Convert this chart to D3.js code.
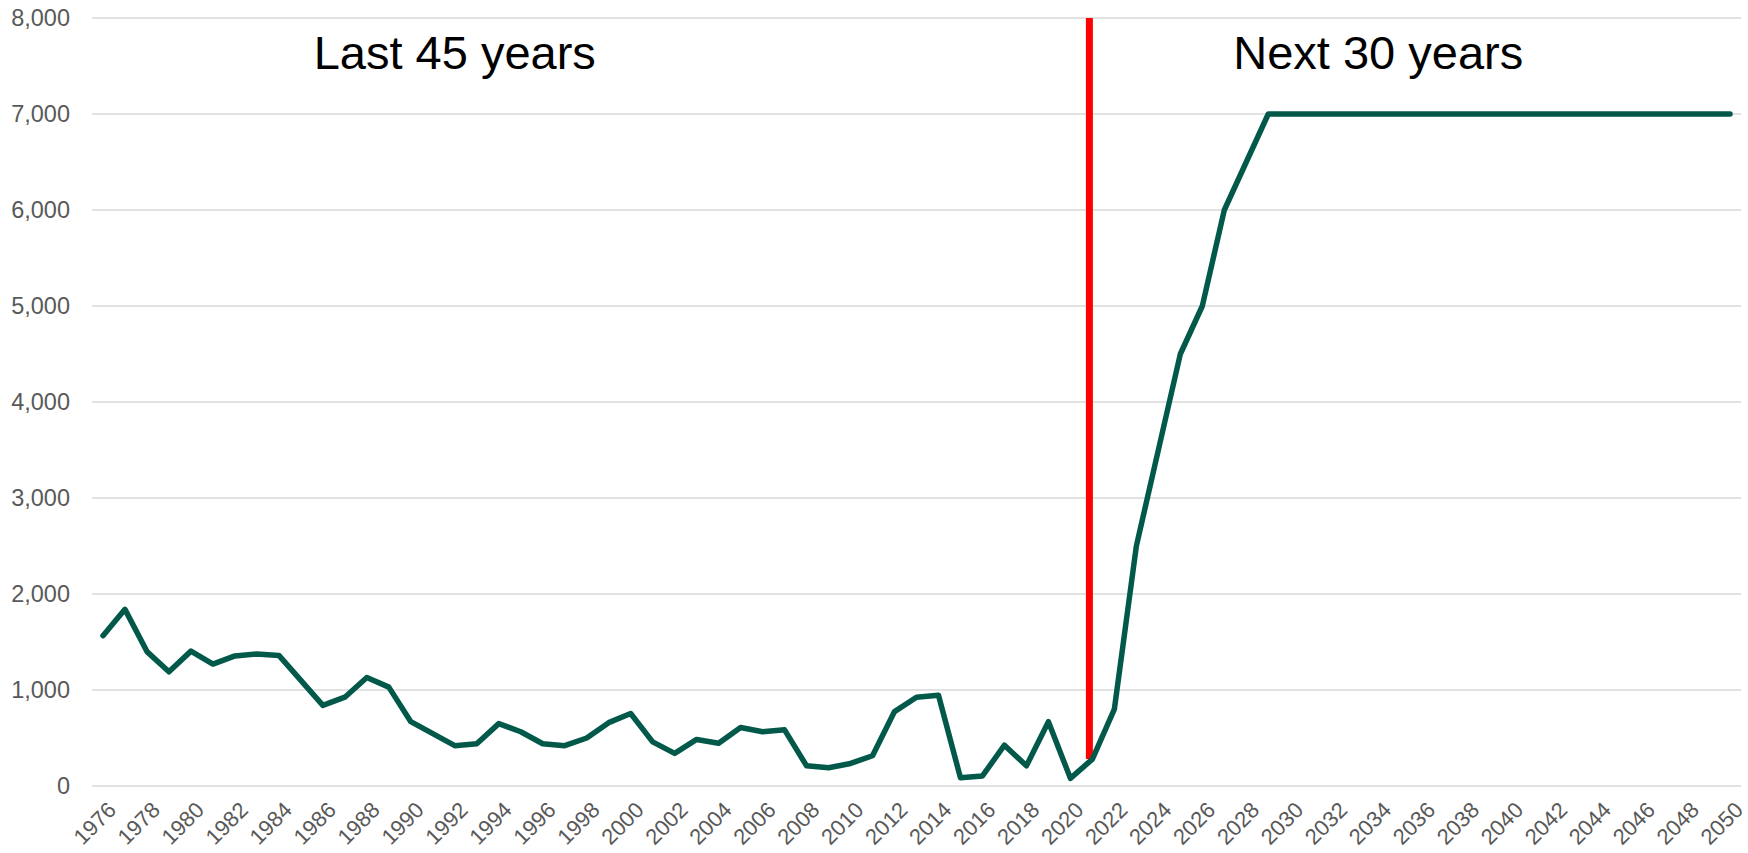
<!DOCTYPE html>
<html lang="en">
<head>
  <meta charset="UTF-8" />
  <title>Last 45 years / Next 30 years</title>
  <style>
    body {
      margin: 0;
      background: #fff;
      overflow: hidden;
    }
    svg {
      display: block;
      font-family: "Liberation Sans", Arial, sans-serif;
    }
    .grid line {
      stroke: #d9d9d9;
      stroke-width: 1.5;
    }
    .tick-label {
      fill: #595959;
      font-size: 23.5px;
    }
    .x-label {
      font-size: 22px;
    }
  </style>
  <script src="https://cdn.jsdelivr.net/npm/d3@7"></script>
</head>
<body>
  <svg id="chart" width="1748" height="853"></svg>

  <script>
    // years on the category axis
    const years = d3.range(1976, 2051);

    // history 1976-2021
    const pastValues = [
      1565, 1840, 1400, 1190, 1405, 1270, 1355, 1375, 1360, 1100,
      840, 925, 1130, 1030, 670, 545, 420, 440, 650, 565,
      440, 420, 500, 660, 755, 460, 340, 485, 445, 610,
      565, 585, 210, 190, 235, 315, 775, 925, 945, 85,
      105, 425, 210, 670, 80, 280
    ];

    // outlook 2022-2050
    const futureValues = [
      800, 2500, 3500, 4500, 5000, 6000, 6500, 7000, 7000, 7000,
      7000, 7000, 7000, 7000, 7000, 7000, 7000, 7000, 7000, 7000,
      7000, 7000, 7000, 7000, 7000, 7000, 7000, 7000, 7000
    ];

    const values = pastValues.concat(futureValues);
    const yTicks = [0, 1000, 2000, 3000, 4000, 5000, 6000, 7000, 8000];
    const xTickYears = years.filter(y => (y - 1976) % 2 === 0);
    const splitYear = 2021;
    const annotations = [
      { text: 'Last 45 years', year: 1992 },
      { text: 'Next 30 years', year: 2034 }
    ];

    const data = years.map((yr, i) => ({ year: yr, value: values[i] }));

    const svg = d3.select('#chart');
    const plotLeft = 92, plotRight = 1741, plotTop = 18, plotBottom = 786;

    const x = d3.scalePoint().domain(years).range([plotLeft, plotRight]).padding(0.5);
    const y = d3.scaleLinear().domain([0, 8000]).range([plotBottom, plotTop]);

    // gridlines
    svg.append('g').attr('class', 'grid')
      .selectAll('line').data(yTicks).join('line')
      .attr('x1', plotLeft).attr('x2', plotRight)
      .attr('y1', d => y(d)).attr('y2', d => y(d));

    // y labels
    svg.append('g')
      .selectAll('text').data(yTicks).join('text')
      .attr('class', 'tick-label')
      .attr('x', 70)
      .attr('y', d => y(d))
      .attr('dy', '0.35em')
      .attr('text-anchor', 'end')
      .text(d => d3.format(',')(d));

    // x labels, rotated
    svg.append('g')
      .selectAll('text').data(xTickYears).join('text')
      .attr('class', 'tick-label x-label')
      .attr('text-anchor', 'end')
      .attr('dy', '0.35em')
      .attr('transform', d => `translate(${x(d) + 9},${plotBottom + 20}) rotate(-45)`)
      .text(d => d);

    // red divider at the last actual year
    const splitPoint = data.find(d => d.year === splitYear);
    svg.append('line')
      .attr('x1', x(splitYear) - 3).attr('x2', x(splitYear) - 3)
      .attr('y1', y(8000)).attr('y2', y(splitPoint.value))
      .attr('stroke', '#ff0000')
      .attr('stroke-width', 7);

    // main series
    const line = d3.line()
      .x(d => x(d.year))
      .y(d => y(d.value));

    svg.append('path')
      .datum(data)
      .attr('fill', 'none')
      .attr('stroke', '#02594a')
      .attr('stroke-width', 5.5)
      .attr('stroke-linejoin', 'round')
      .attr('stroke-linecap', 'round')
      .attr('d', line);

    // period labels
    svg.append('g')
      .selectAll('text').data(annotations).join('text')
      .attr('x', d => x(d.year))
      .attr('y', 69)
      .attr('text-anchor', 'middle')
      .attr('font-size', 47)
      .attr('fill', '#000')
      .text(d => d.text);
  </script>
</body>
</html>
